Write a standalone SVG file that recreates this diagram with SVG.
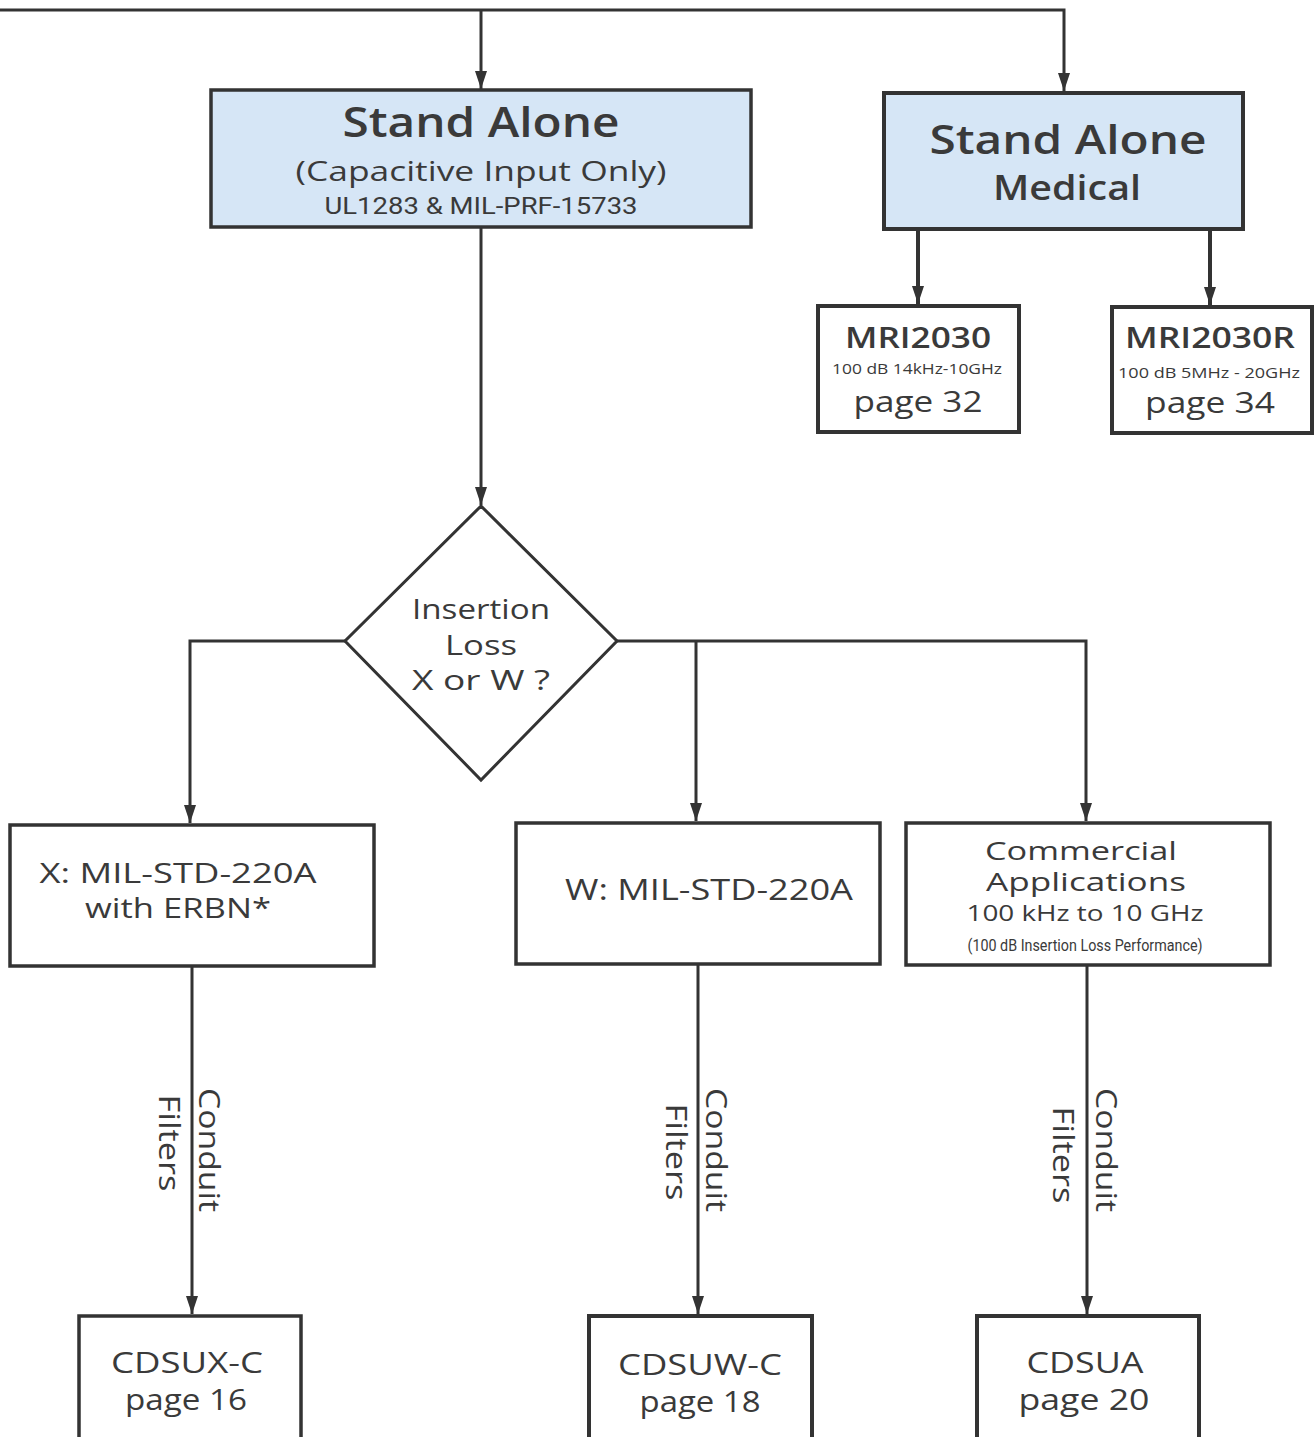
<svg xmlns="http://www.w3.org/2000/svg" width="1315" height="1437" viewBox="0 0 1315 1437">
<defs>
<marker id="arr" markerUnits="userSpaceOnUse" markerWidth="18" markerHeight="12" refX="18" refY="6" orient="auto">
<path d="M0,0 L18,6 L0,12 z" fill="#333"/>
</marker>
<style>
.box{fill:#fff;stroke:#333;stroke-width:3.5}
.blue{fill:#d6e6f6;stroke:#333;stroke-width:3.5}
.c{fill:none;stroke:#333;stroke-width:3}
.t{font-family:"Open Sans","Liberation Sans",sans-serif;fill:#3a3a3a;text-anchor:middle}
.b{font-weight:600}
.n{font-family:Roboto,"Liberation Sans",sans-serif;fill:#3a3a3a;text-anchor:middle}
</style>
</defs>
<rect width="1315" height="1437" fill="#fff"/>
<g id="connectors">
<path class="c" d="M0,10 H1064 V91" marker-end="url(#arr)"/>
<path class="c" d="M481,10 V89" marker-end="url(#arr)"/>
<path class="c" style="stroke-width:4" d="M918,229 V304" marker-end="url(#arr)"/>
<path class="c" style="stroke-width:4" d="M1210,229 V305" marker-end="url(#arr)"/>
<path class="c" d="M481,227 V505" marker-end="url(#arr)"/>
<path class="c" d="M345,641 H190 V823" marker-end="url(#arr)"/>
<path class="c" d="M617,641 H1086 V821" marker-end="url(#arr)"/>
<path class="c" d="M696,641 V821" marker-end="url(#arr)"/>
<path class="c" d="M192,966 V1314" marker-end="url(#arr)"/>
<path class="c" d="M698,964 V1314" marker-end="url(#arr)"/>
<path class="c" d="M1087,965 V1314" marker-end="url(#arr)"/>
<g class="t" font-size="30">
<text transform="translate(199,1150) rotate(90)" textLength="124" lengthAdjust="spacingAndGlyphs">Conduit</text>
<text transform="translate(159,1143) rotate(90)" textLength="97" lengthAdjust="spacingAndGlyphs">Filters</text>
<text transform="translate(706,1150) rotate(90)" textLength="124" lengthAdjust="spacingAndGlyphs">Conduit</text>
<text transform="translate(666,1152) rotate(90)" textLength="97" lengthAdjust="spacingAndGlyphs">Filters</text>
<text transform="translate(1096,1150) rotate(90)" textLength="124" lengthAdjust="spacingAndGlyphs">Conduit</text>
<text transform="translate(1053,1155) rotate(90)" textLength="97" lengthAdjust="spacingAndGlyphs">Filters</text>
</g>
</g>
<g id="stand-alone">
<rect class="blue" x="211" y="90" width="540" height="137"/>
<text class="t b" x="481" y="137" font-size="42" textLength="277" lengthAdjust="spacingAndGlyphs">Stand Alone</text>
<text class="t" x="481" y="181" font-size="28" textLength="371" lengthAdjust="spacingAndGlyphs">(Capacitive Input Only)</text>
<text class="n" x="481" y="214" font-size="23" textLength="313" lengthAdjust="spacingAndGlyphs">UL1283 &amp; MIL-PRF-15733</text>
</g>
<g id="stand-alone-medical">
<rect class="blue" x="884" y="93" width="359" height="136" style="stroke-width:4"/>
<text class="t b" x="1068" y="154" font-size="40" textLength="277" lengthAdjust="spacingAndGlyphs">Stand Alone</text>
<text class="t b" x="1067" y="200" font-size="34" textLength="148" lengthAdjust="spacingAndGlyphs">Medical</text>
</g>
<g id="mri2030">
<rect class="box" x="818" y="306" width="201" height="126" style="stroke-width:4"/>
<text class="t b" x="918" y="348" font-size="29" textLength="146" lengthAdjust="spacingAndGlyphs">MRI2030</text>
<text class="t" x="917" y="374" font-size="15" textLength="170" lengthAdjust="spacingAndGlyphs">100 dB  14kHz-10GHz</text>
<text class="t" x="918" y="412" font-size="30" textLength="129" lengthAdjust="spacingAndGlyphs">page 32</text>
</g>
<g id="mri2030r">
<rect class="box" x="1112" y="307" width="200" height="126" style="stroke-width:4"/>
<text class="t b" x="1210" y="348" font-size="29" textLength="170" lengthAdjust="spacingAndGlyphs">MRI2030R</text>
<text class="t" x="1209" y="378" font-size="15" textLength="182" lengthAdjust="spacingAndGlyphs">100 dB  5MHz - 20GHz</text>
<text class="t" x="1210" y="413" font-size="30" textLength="130" lengthAdjust="spacingAndGlyphs">page 34</text>
</g>
<g id="decision">
<polygon points="481,506 617,641 481,780 345,641" fill="#fff" stroke="#333" stroke-width="3"/>
<text class="t" x="481" y="619" font-size="27" textLength="138" lengthAdjust="spacingAndGlyphs">Insertion</text>
<text class="t" x="481" y="655" font-size="27" textLength="72" lengthAdjust="spacingAndGlyphs">Loss</text>
<text class="t" x="481" y="690" font-size="27" textLength="138" lengthAdjust="spacingAndGlyphs">X or W ?</text>
</g>
<g id="x-box">
<rect class="box" x="10" y="825" width="364" height="141"/>
<text class="t" x="178" y="883" font-size="28" textLength="277" lengthAdjust="spacingAndGlyphs">X: MIL-STD-220A</text>
<text class="t" x="178" y="918" font-size="28" textLength="186" lengthAdjust="spacingAndGlyphs">with ERBN*</text>
</g>
<g id="w-box">
<rect class="box" x="516" y="823" width="364" height="141"/>
<text class="t" x="709" y="900" font-size="29" textLength="288" lengthAdjust="spacingAndGlyphs">W: MIL-STD-220A</text>
</g>
<g id="commercial-box">
<rect class="box" x="906" y="823" width="364" height="142"/>
<text class="t" x="1081" y="860" font-size="25" textLength="192" lengthAdjust="spacingAndGlyphs">Commercial</text>
<text class="t" x="1086" y="891" font-size="25" textLength="200" lengthAdjust="spacingAndGlyphs">Applications</text>
<text class="t" x="1085" y="921" font-size="22" textLength="237" lengthAdjust="spacingAndGlyphs">100 kHz to 10 GHz</text>
<text class="n" x="1085" y="951" font-size="17" textLength="235" lengthAdjust="spacingAndGlyphs">(100 dB Insertion Loss Performance)</text>
</g>
<g id="cdsux-c">
<rect class="box" x="79" y="1316" width="222" height="130"/>
<text class="t" x="187" y="1373" font-size="29" textLength="152" lengthAdjust="spacingAndGlyphs">CDSUX-C</text>
<text class="t" x="186" y="1410" font-size="29" textLength="122" lengthAdjust="spacingAndGlyphs">page 16</text>
</g>
<g id="cdsuw-c">
<rect class="box" x="589" y="1316" width="223" height="130" style="stroke-width:4"/>
<text class="t" x="700" y="1375" font-size="29" textLength="164" lengthAdjust="spacingAndGlyphs">CDSUW-C</text>
<text class="t" x="700" y="1412" font-size="29" textLength="121" lengthAdjust="spacingAndGlyphs">page 18</text>
</g>
<g id="cdsua">
<rect class="box" x="977" y="1316" width="222" height="130" style="stroke-width:4"/>
<text class="t" x="1085" y="1373" font-size="29" textLength="117" lengthAdjust="spacingAndGlyphs">CDSUA</text>
<text class="t" x="1084" y="1410" font-size="29" textLength="131" lengthAdjust="spacingAndGlyphs">page 20</text>
</g>
</svg>
